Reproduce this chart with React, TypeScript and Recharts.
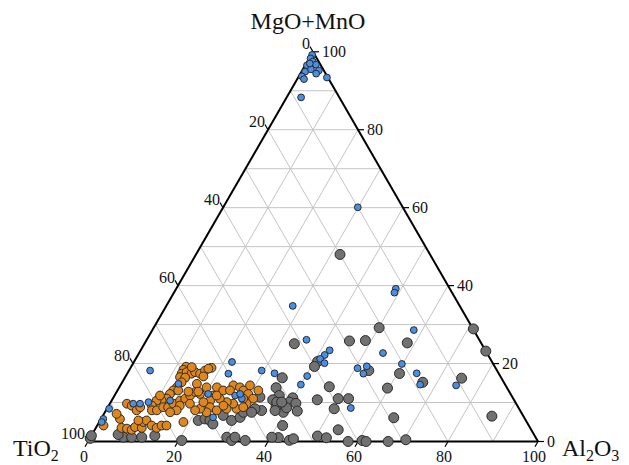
import React from "react";
import { ScatterChart, Scatter, XAxis, YAxis, ReferenceLine } from "recharts";

// compositions: Al2O3 and MgO+MnO in %, TiO2 is the remainder
const blueAl2O3 = [
  0.2, 0.3, 1.2, 0.4, 2.3, 0.8, 1.8, 3.7, 3.5, 0.7, 6.4, 3.2, 0.8, 1.5,
  29.9, 48.8, 49.0, 28.1, 35.5, 42.0, 41.5, 41.0, 42.5, 54.2, 58.1, 29.5, 32.7,
  40.3, 40.0, 50.5, 52.5, 52.3, 59.8, 64.3, 66.5, 74.6, 54.1,
  0.5, 0.5, 0.55, 5.2, 6.7, 8.4, 13.0, 12.7, 20.6, 24.7, 26.8, 28.7, 21.8, 4.7,
  22.5, 27.7,
];
const blueMgO = [
  99.2, 98.3, 97.5, 96.5, 96.7, 94.9, 95.5, 95.2, 94.4, 93.7, 93.4, 88.3, 97.0, 93.0,
  60.1, 39.2, 38.2, 34.8, 26.1, 23.4, 22.2, 21.2, 20.1, 22.7, 28.6, 18.2, 17.5,
  16.8, 14.6, 18.8, 17.4, 19.3, 19.9, 17.5, 14.6, 14.4, 8.6,
  8.4, 5.8, 5.0, 9.7, 9.7, 10.1, 10.5, 14.8, 12.2, 6.2, 11.8, 11.0, 20.4, 18.2,
  17.4, 12.2,
];

const orangeAl2O3 = [
  12.2, 12.0, 12.1, 13.0, 14.3, 12.2, 13.4, 14.9, 16.2, 16.9, 18.0, 16.8, 17.3,
  13.2, 12.8, 12.4, 13.5, 12.1, 12.0, 11.1, 10.0, 9.6, 10.2, 11.3, 12.3, 13.4,
  14.1, 15.2, 16.1, 16.8, 17.5, 18.8, 19.4, 21.7, 23.5, 25.1, 26.8, 28.0, 29.5,
  28.8, 31.3, 31.2, 30.4, 28.8, 27.4, 25.8, 23.8, 21.9, 21.9, 22.7, 24.6, 22.6,
  20.7, 17.8, 15.8, 15.7, 14.5, 3.8, 5.1, 6.8, 7.2, 4.2, 2.8, 1.4, 5.7, 7.0,
  8.2, 8.6, 10.2, 9.8, 10.3, 12.1, 13.5, 14.3, 15.4, 18.7, 8.5, 19.8, 26.6,
  15.9, 18.1, 20.6, 22.7, 25.5, 25.0, 29.0, 30.1, 17.4, 13.5, 10.1,
];
const orangeMgO = [
  19.2, 18.4, 17.4, 17.8, 17.4, 16.5, 16.4, 17.8, 17.4, 18.2, 18.9, 14.8, 16.7,
  15.2, 13.9, 13.1, 13.1, 12.2, 11.0, 10.5, 10.5, 9.2, 8.0, 8.0, 8.8, 8.8,
  9.7, 10.5, 11.0, 11.8, 12.7, 12.2, 13.9, 13.9, 13.1, 14.4, 13.9, 13.1, 12.2,
  14.4, 13.1, 11.0, 9.7, 8.4, 9.7, 10.1, 11.0, 11.8, 10.5, 8.8, 8.0, 7.5,
  8.4, 9.7, 9.2, 8.0, 7.5, 9.7, 9.2, 8.0, 8.8, 5.8, 7.1, 4.1, 3.5, 3.3,
  3.0, 3.7, 3.5, 5.0, 5.4, 4.1, 3.5, 4.1, 4.1, 5.0, 5.4, 8.0, 8.4,
  12.8, 12.8, 10.1, 11.8, 9.2, 13.1, 11.0, 8.8, 18.7, 19.1, 11.8,
];

const greyAl2O3 = [
  32.0, 33.3, 45.2, 48.7, 50.1, 40.75, 40.7, 58.3, 71.2, 76.8, 35.0, 46.6, 53.3,
  60.5, 59.7, 66.8, 74.9, 86.5, 64.9, 45.6, 50.1, 52.4, 50.5, 54.1, 41.2, 41.8,
  44.6, 45.3, 50.3, 52.5, 57.8, 60.8, 61.8, 66.7, 70.4,
  34.9, 36.6, 35.7, 39.9, 39.7, 41.3, 42.6, 39.65, 37.3, 39.8,
  21.8, 23.1, 24.4, 25.5, 26.7, 29.2, 30.7, 30.8, 34.6, 36.9, 37.6, 0.1, 0.0,
  7.3, 9.15, 11.4, 14.1, 20.7, 30.3, 31.8, 34.8, 40.3, 5.8, 32.1, 32.5, 32.9,
  32.6, 38.0,
];
const greyMgO = [
  48.0, 25.1, 25.8, 25.9, 29.2, 20.5, 19.25, 25.3, 28.9, 23.2, 16.35, 14.05, 18.2,
  17.45, 13.7, 15.2, 16.25, 6.5, 6.1, 10.7, 11.0, 11.0, 8.4, 3.0, 4.1, 1.0,
  0.3, 0.7, 1.4, 0.95, 0.0, 0.25, 0.0, 0.0, 0.45,
  13.8, 11.8, 10.7, 11.2, 10.1, 9.8, 7.8, 7.5, 9.0, 8.65,
  5.4, 5.8, 5.4, 4.5, 6.7, 5.4, 6.2, 7.5, 7.95, 10.1, 7.95, 0.8, 1.5,
  1.1, 1.1, 1.1, 1.5, 0.26, 1.1, 0.26, 0.26, 1.1, 1.8, 1.1, 11.4, 8.4,
  7.5, 10.1,
];

const gridSteps = [10, 20, 30, 40, 50, 60, 70, 80, 90];
const tickSteps = [0, 20, 40, 60, 80, 100];

const H = Math.sqrt(3) / 2;
const toXY = (al: number, mg: number) => ({ x: al + mg / 2, y: mg * H });

const makePoints = (al: number[], mg: number[]) =>
  al.map((a, i) => toXY(a, mg[i]));

const bluePts = makePoints(blueAl2O3, blueMgO);
const orangePts = makePoints(orangeAl2O3, orangeMgO);
const greyPts = makePoints(greyAl2O3, greyMgO);

const gridLines: { x: number; y: number }[][] = [];
gridSteps.forEach((k) => {
  gridLines.push([toXY(0, k), toXY(100 - k, k)]);
  gridLines.push([toXY(k, 0), toXY(k, 100 - k)]);
  gridLines.push([toXY(100 - k, 0), toXY(0, 100 - k)]);
});
const edges = [
  [toXY(0, 0), toXY(100, 0)],
  [toXY(0, 0), toXY(0, 100)],
  [toXY(100, 0), toXY(0, 100)],
];

const bottomTicks = tickSteps.map((v) => ({ ...toXY(v, 0), label: v }));
const leftTicks = tickSteps.map((v) => ({ ...toXY(0, 100 - v), label: v }));
const rightTicks = tickSteps.map((v) => ({ ...toXY(100 - v, v), label: v }));
const vertices = [
  { ...toXY(0, 100), name: "top" },
  { ...toXY(0, 0), name: "left" },
  { ...toXY(100, 0), name: "right" },
];

const FONT = "'Liberation Serif', 'Times New Roman', serif";

const dot = (r: number, fill: string) => (props: any) => (
  <circle cx={props.cx} cy={props.cy} r={r} fill={fill} stroke="#2a2a2a" strokeWidth={1} />
);

const tickShape = (dx: number, dy: number, side: string) => (props: any) => {
  const { cx, cy, payload } = props;
  let tx = cx;
  let ty = cy;
  let anchor: "start" | "middle" | "end" = "middle";
  if (side === "bottom") {
    tx = cx - 4;
    ty = cy + 20;
  } else if (side === "left") {
    tx = cx - 3;
    ty = cy - 3;
    anchor = "end";
  } else {
    tx = cx + 9;
    ty = cy + 5.5;
    anchor = "start";
  }
  return (
    <g>
      <line x1={cx} y1={cy} x2={cx + dx} y2={cy + dy} stroke="#000" strokeWidth={1.2} />
      <text x={tx} y={ty} textAnchor={anchor} fontFamily={FONT} fontSize={16} fill="#111">
        {payload.label}
      </text>
    </g>
  );
};

const vertexShape = (props: any) => {
  const { cx, cy, payload } = props;
  if (payload.name === "top") {
    return (
      <text x={cx - 5} y={cy - 23} textAnchor="middle" fontFamily={FONT} fontSize={24} fill="#111">
        MgO+MnO
      </text>
    );
  }
  if (payload.name === "left") {
    return (
      <text x={cx - 75} y={cy + 14} fontFamily={FONT} fontSize={24} fill="#111">
        TiO<tspan fontSize={16} dy={5}>2</tspan>
      </text>
    );
  }
  return (
    <text x={cx + 24} y={cy + 14} fontFamily={FONT} fontSize={24} fill="#111">
      Al<tspan fontSize={16} dy={5}>2</tspan>
      <tspan dy={-5}>O</tspan>
      <tspan fontSize={16} dy={5}>3</tspan>
    </text>
  );
};

export default function App() {
  return (
    <div style={{ position: "absolute", left: 0, top: 0, background: "#fff" }}>
      <ScatterChart
        width={629}
        height={465}
        margin={{ top: 51.8, right: 91, bottom: 23.5, left: 88 }}
      >
        <XAxis type="number" dataKey="x" domain={[0, 100]} hide />
        <YAxis type="number" dataKey="y" domain={[0, 100 * H]} hide />
        {gridLines.map((seg, i) => (
          <ReferenceLine key={"g" + i} segment={seg} stroke="#c4c4c4" strokeWidth={1} />
        ))}
        {edges.map((seg, i) => (
          <ReferenceLine key={"e" + i} segment={seg} stroke="#000" strokeWidth={2} />
        ))}
        <Scatter data={bottomTicks} shape={tickShape(-3, 5.2, "bottom")} isAnimationActive={false} />
        <Scatter data={leftTicks} shape={tickShape(-3, -5.2, "left")} isAnimationActive={false} />
        <Scatter data={rightTicks} shape={tickShape(6, 0, "right")} isAnimationActive={false} />
        <Scatter data={vertices} shape={vertexShape} isAnimationActive={false} />
        <Scatter data={greyPts} shape={dot(5, "#717171")} isAnimationActive={false} />
        <Scatter data={orangePts} shape={dot(4.4, "#e0871c")} isAnimationActive={false} />
        <Scatter data={bluePts} shape={dot(3.4, "#4a8fe6")} isAnimationActive={false} />
      </ScatterChart>
    </div>
  );
}
